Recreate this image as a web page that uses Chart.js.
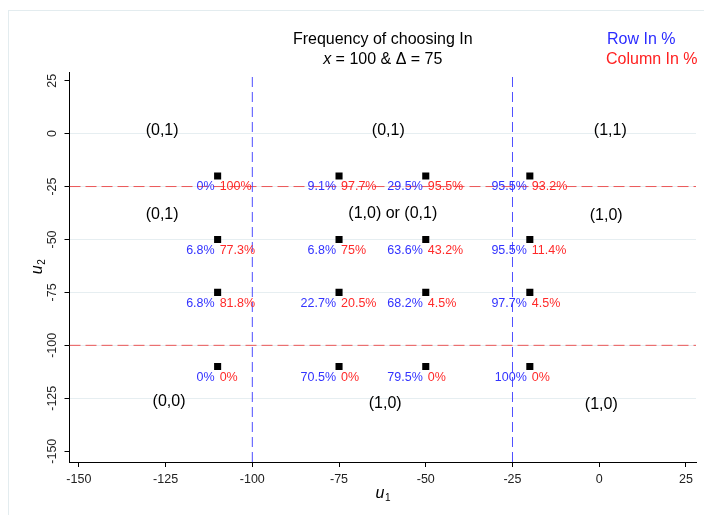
<!DOCTYPE html>
<html>
<head>
<meta charset="utf-8">
<script src="https://cdn.jsdelivr.net/npm/chart.js@4.4.0/dist/chart.umd.min.js"></script>
<style>
  html, body { margin: 0; padding: 0; background: #fff; }
  #wrap { position: relative; width: 704px; height: 515px; }
</style>
</head>
<body>
<div id="wrap"><canvas id="freq-chart" width="704" height="515"></canvas></div>
<script>
// tick labels
const xTicks = [-150, -125, -100, -75, -50, -25, 0, 25];
const yTicks = [25, 0, -25, -50, -75, -100, -125, -150];

// grid of design points
const u1Points = [-110, -75, -50, -20];
const u2Points = [-20, -50, -75, -110];

// Row In % (blue), one row per u2 value
const rowIn = [
    ['0%', '9.1%', '29.5%', '95.5%'],
    ['6.8%', '6.8%', '63.6%', '95.5%'],
    ['6.8%', '22.7%', '68.2%', '97.7%'],
    ['0%', '70.5%', '79.5%', '100%']
];
// Column In % (red)
const colIn = [
    ['100%', '97.7%', '95.5%', '93.2%'],
    ['77.3%', '75%', '43.2%', '11.4%'],
    ['81.8%', '20.5%', '4.5%', '4.5%'],
    ['0%', '0%', '0%', '0%']
];

// equilibrium region labels
const regionText = ['(0,1)', '(0,1)', '(1,1)', '(0,1)', '(1,0) or (0,1)', '(1,0)', '(0,0)', '(1,0)', '(1,0)'];
const regionX = [-126, -60.8, 3.2, -126, -59.5, 2, -124, -61.7, 0.6];
const regionY = [1.2, 1.2, 1.2, -38.4, -37.6, -38.9, -126.8, -127.7, -128.2];

// threshold lines
const vLines = [-100, -25];
const hLines = [-25, -100];

const xMin = -152.7, xMax = 27.9;
const yMin = -155.1, yMax = 29.1;
const FONT = "'Liberation Sans', Arial, Helvetica, sans-serif";

const points = [];
u2Points.forEach(y => u1Points.forEach(x => points.push({ x: x, y: y })));

const datasets = [];
vLines.forEach(v => datasets.push({
    type: 'line',
    data: [{ x: v, y: yMin }, { x: v, y: yMax }],
    borderColor: 'rgba(70, 70, 255, 0.95)',
    borderWidth: 1,
    borderDash: [10, 5],
    pointRadius: 0
}));
hLines.forEach(h => datasets.push({
    type: 'line',
    data: [{ x: xMin, y: h }, { x: xMax, y: h }],
    borderColor: 'rgba(235, 70, 70, 0.9)',
    borderWidth: 1,
    borderDash: [11, 5],
    pointRadius: 0
}));
datasets.push({
    type: 'scatter',
    data: points,
    pointStyle: 'rect',
    pointRadius: 5,
    pointBorderWidth: 0,
    backgroundColor: '#000',
    borderColor: '#000'
});

function drawSubU(ctx, x, y, sub, rotate) {
    ctx.save();
    ctx.translate(x, y);
    if (rotate) ctx.rotate(-Math.PI / 2);
    ctx.fillStyle = '#000';
    ctx.textBaseline = 'middle';
    ctx.font = 'italic 16px ' + FONT;
    const w1 = ctx.measureText('u').width;
    ctx.font = '10px ' + FONT;
    const w2 = ctx.measureText(sub).width;
    const start = -(w1 + w2) / 2;
    ctx.font = 'italic 16px ' + FONT;
    ctx.textAlign = 'left';
    ctx.fillText('u', start, 0);
    ctx.font = '10px ' + FONT;
    ctx.fillText(sub, start + w1 + 0.5, 4);
    ctx.restore();
}

const annotations = {
    id: 'annotations',
    beforeDraw(chart) {
        const ctx = chart.ctx;
        ctx.save();
        ctx.fillStyle = '#fff';
        ctx.fillRect(0, 0, chart.width, chart.height);
        ctx.strokeStyle = '#e3ecef';
        ctx.lineWidth = 1;
        ctx.strokeRect(8.5, 10.5, chart.width, chart.height);
        ctx.restore();
    },
    afterDatasetsDraw(chart) {
        const ctx = chart.ctx;
        const xs = chart.scales.x, ys = chart.scales.y;
        ctx.save();
        ctx.textBaseline = 'middle';

        // percentage labels
        ctx.font = '12.5px ' + FONT;
        u2Points.forEach((yv, r) => {
            u1Points.forEach((xv, c) => {
                const px = xs.getPixelForValue(xv);
                const py = ys.getPixelForValue(yv) + 11;
                ctx.textAlign = 'right';
                ctx.fillStyle = '#3333ff';
                ctx.fillText(rowIn[r][c], px - 3, py);
                ctx.textAlign = 'left';
                ctx.fillStyle = '#ff2a2a';
                ctx.fillText(colIn[r][c], px + 2, py);
            });
        });

        // region labels
        ctx.font = '16px ' + FONT;
        ctx.fillStyle = '#000';
        ctx.textAlign = 'center';
        regionText.forEach((t, i) => {
            ctx.fillText(t, xs.getPixelForValue(regionX[i]), ys.getPixelForValue(regionY[i]));
        });

        // y tick labels (rotated)
        ctx.font = '12.5px ' + FONT;
        ctx.fillStyle = '#222';
        yTicks.forEach(v => {
            ctx.save();
            ctx.translate(53, ys.getPixelForValue(v));
            ctx.rotate(-Math.PI / 2);
            ctx.textAlign = 'center';
            ctx.fillText(String(v), 0, 0);
            ctx.restore();
        });

        // axis titles
        const midX = (chart.chartArea.left + chart.chartArea.right) / 2;
        drawSubU(ctx, midX, 494, '1', false);
        drawSubU(ctx, 38, (chart.chartArea.top + chart.chartArea.bottom) / 2, '2', true);

        // title
        ctx.fillStyle = '#000';
        ctx.textAlign = 'center';
        ctx.font = '16px ' + FONT;
        ctx.fillText('Frequency of choosing In', midX, 40);
        ctx.font = 'italic 16px ' + FONT;
        const wx = ctx.measureText('x').width;
        ctx.font = '16px ' + FONT;
        const rest = ' = 100 & \u0394 = 75';
        const wr = ctx.measureText(rest).width;
        const sx = midX - (wx + wr) / 2;
        ctx.textAlign = 'left';
        ctx.font = 'italic 16px ' + FONT;
        ctx.fillText('x', sx, 60);
        ctx.font = '16px ' + FONT;
        ctx.fillText(rest, sx + wx, 60);

        // legend
        ctx.fillStyle = '#2b2bff';
        ctx.fillText('Row In %', 607, 40);
        ctx.fillStyle = '#ff2020';
        ctx.fillText('Column In %', 606, 60);
        ctx.restore();
    }
};

new Chart(document.getElementById('freq-chart'), {
    data: { datasets: datasets },
    options: {
        responsive: false,
        animation: false,
        events: [],
        layout: { padding: { left: 9.5, right: 8, top: 72, bottom: 0 } },
        plugins: {
            legend: { display: false },
            tooltip: { enabled: false },
            title: { display: false }
        },
        scales: {
            x: {
                type: 'linear',
                min: xMin,
                max: xMax,
                afterBuildTicks: s => { s.ticks = xTicks.map(v => ({ value: v })); },
                afterFit: s => { s.height = 53; },
                border: { color: '#000', width: 1 },
                grid: { drawOnChartArea: false, tickLength: 5, tickColor: '#000' },
                ticks: { color: '#222', padding: 5, maxRotation: 0, font: { family: FONT, size: 12.5 } }
            },
            y: {
                type: 'linear',
                min: yMin,
                max: yMax,
                afterBuildTicks: s => { s.ticks = yTicks.map(v => ({ value: v })); },
                afterFit: s => { s.width = 60; },
                border: { color: '#000', width: 1 },
                grid: {
                    tickLength: 5,
                    tickColor: '#000',
                    color: c => (c.tick && (c.tick.value === 25 || c.tick.value === -150)) ? 'rgba(0,0,0,0)' : '#e6eef1'
                },
                ticks: { display: false }
            }
        }
    },
    plugins: [annotations]
});
</script>
</body>
</html>
